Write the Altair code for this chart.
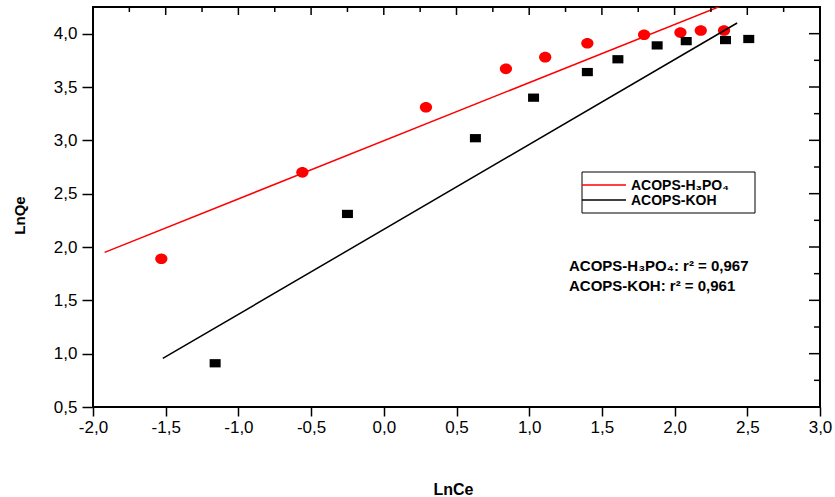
import altair as alt
import pandas as pd

# Freundlich plot: LnQe versus LnCe for the two activated carbons
h3po4_x = [-1.53, -0.56, 0.29, 0.84, 1.11, 1.40, 1.79, 2.04, 2.18, 2.34]
h3po4_y = [1.89, 2.70, 3.31, 3.67, 3.78, 3.91, 3.99, 4.01, 4.03, 4.03]
koh_x = [-1.16, -0.25, 0.63, 1.03, 1.40, 1.61, 1.88, 2.08, 2.35, 2.51]
koh_y = [0.91, 2.31, 3.02, 3.40, 3.64, 3.76, 3.89, 3.93, 3.94, 3.95]

# end points of the linear fits
h3po4_fit_x = [-1.92, 2.43]
h3po4_fit_y = [1.95, 4.32]
koh_fit_x = [-1.52, 2.43]
koh_fit_y = [0.955, 4.10]

# axis ticks (labelled every 0.5, minor ticks between)
x_major = [-2.0, -1.5, -1.0, -0.5, 0.0, 0.5, 1.0, 1.5, 2.0, 2.5, 3.0]
y_major = [0.5, 1.0, 1.5, 2.0, 2.5, 3.0, 3.5, 4.0]
x_minor = [round(v + 0.25, 2) for v in x_major[:-1]]
y_minor = [round(v + 0.25, 2) for v in y_major]

labels = ["ACOPS-H\u2083PO\u2084", "ACOPS-KOH"]
r2_text = ["ACOPS-H\u2083PO\u2084: r\u00b2 = 0,967", "ACOPS-KOH: r\u00b2 = 0,961"]

W, H = 727, 400
FONT = "Liberation Sans"

xscale = alt.Scale(domain=[-2, 3], nice=False, zero=False)
yscale = alt.Scale(domain=[0.5, 4.25], nice=False, zero=False)

MAJ = "abs(datum.value * 2 - round(datum.value * 2)) < 0.001"
LBL = (MAJ + " ? (datum.value < 0 ? '-' : '') + "
       "replace(format(abs(datum.value), '.1f'), '.', ',') : ''")

x_axis = alt.Axis(
    values=sorted(x_major + x_minor), title="LnCe", labelExpr=LBL,
    grid=False, domain=False, tickColor="black", tickWidth=1.5,
    tickSize={"condition": {"test": MAJ, "value": 9}, "value": 5},
    labelFont=FONT, labelFontSize=17, labelColor="black", labelPadding=3,
    labelFlush=False, labelOverlap=False, labelBound=False,
    titleFont=FONT, titleFontSize=16, titleFontWeight="bold", titleColor="black",
    titleX=360, titleY=87, titleAnchor="middle", titleBaseline="alphabetic",
)
y_axis = alt.Axis(
    values=sorted(y_major + y_minor), title="LnQe", labelExpr=LBL,
    grid=False, domain=False, tickColor="black", tickWidth=1.5,
    tickSize={"condition": {"test": MAJ, "value": 11}, "value": 6},
    labelFont=FONT, labelFontSize=17, labelColor="black", labelPadding=5,
    labelFlush=False, labelOverlap=False, labelBound=False,
    titleFont=FONT, titleFontSize=15, titleFontWeight="bold", titleColor="black",
    titleAngle=-90, titleX=-74, titleY=208, titleAlign="center",
    titleBaseline="middle",
)

pts_h = pd.DataFrame({"x": h3po4_x, "y": h3po4_y})
pts_k = pd.DataFrame({"x": koh_x, "y": koh_y})
fit_h = pd.DataFrame({"x": h3po4_fit_x, "y": h3po4_fit_y})
fit_k = pd.DataFrame({"x": koh_fit_x, "y": koh_fit_y})

ellipse = "M-1,0A1,0.87,0,1,0,1,0A1,0.87,0,1,0,-1,0Z"
rect = "M-1,-0.75L1,-0.75L1,0.75L-1,0.75Z"

points_h = alt.Chart(pts_h).mark_point(
    shape=ellipse, filled=True, color="#ff0000", opacity=1, size=150
).encode(
    x=alt.X("x:Q", scale=xscale, axis=x_axis),
    y=alt.Y("y:Q", scale=yscale, axis=y_axis),
)
points_k = alt.Chart(pts_k).mark_point(
    shape=rect, filled=True, color="black", opacity=1, size=121
).encode(
    x=alt.X("x:Q", scale=xscale),
    y=alt.Y("y:Q", scale=yscale),
)
line_h = alt.Chart(fit_h).mark_line(color="#ff0000", strokeWidth=1.5, clip=True).encode(
    x=alt.X("x:Q", scale=xscale), y=alt.Y("y:Q", scale=yscale)
)
line_k = alt.Chart(fit_k).mark_line(color="black", strokeWidth=1.5, clip=True).encode(
    x=alt.X("x:Q", scale=xscale), y=alt.Y("y:Q", scale=yscale)
)

# inward ticks on the top and right frame
def top_ticks(vals, length):
    return alt.Chart(pd.DataFrame({"x": vals})).mark_rule(
        color="black", strokeWidth=1.5
    ).encode(x=alt.X("x:Q", scale=xscale), y=alt.value(0), y2=alt.value(length))

def right_ticks(vals, length):
    return alt.Chart(pd.DataFrame({"y": vals})).mark_rule(
        color="black", strokeWidth=1.5
    ).encode(y=alt.Y("y:Q", scale=yscale), x=alt.value(W), x2=alt.value(W - length))

one = alt.Data(values=[{}])

# legend box
leg_box = alt.Chart(one).mark_rect(
    fill="white", stroke="black", strokeWidth=1
).encode(x=alt.value(489), x2=alt.value(662), y=alt.value(165), y2=alt.value(206))
leg_red = alt.Chart(one).mark_rule(color="#ff0000", strokeWidth=1.5).encode(
    x=alt.value(489), x2=alt.value(533), y=alt.value(178))
leg_black = alt.Chart(one).mark_rule(color="black", strokeWidth=1.5).encode(
    x=alt.value(489), x2=alt.value(533), y=alt.value(193))
leg_t1 = alt.Chart(one).mark_text(
    text=labels[0], font=FONT, fontSize=14, fontWeight="bold", align="left",
    baseline="alphabetic", color="black"
).encode(x=alt.value(538), y=alt.value(183))
leg_t2 = alt.Chart(one).mark_text(
    text=labels[1], font=FONT, fontSize=14, fontWeight="bold", align="left",
    baseline="alphabetic", color="black"
).encode(x=alt.value(538), y=alt.value(198))

# r² annotations
ann1 = alt.Chart(one).mark_text(
    text=r2_text[0], font=FONT, fontSize=15, fontWeight="bold", align="left",
    baseline="alphabetic", color="black"
).encode(x=alt.value(476), y=alt.value(264))
ann2 = alt.Chart(one).mark_text(
    text=r2_text[1], font=FONT, fontSize=15, fontWeight="bold", align="left",
    baseline="alphabetic", color="black"
).encode(x=alt.value(476), y=alt.value(284))

chart = alt.layer(
    points_h, line_h, line_k, points_k,
    top_ticks(x_major, 8), top_ticks(x_minor, 5),
    right_ticks(y_major, 11), right_ticks(y_minor, 6),
    leg_box, leg_red, leg_black, leg_t1, leg_t2, ann1, ann2,
).properties(
    width=W, height=H, autosize="none",
    padding={"left": 93, "top": 7, "right": 15, "bottom": 90},
    background="white",
).configure_view(stroke="black", strokeWidth=2)

chart.save("out.html", embed_options={"renderer": "svg", "actions": False})
